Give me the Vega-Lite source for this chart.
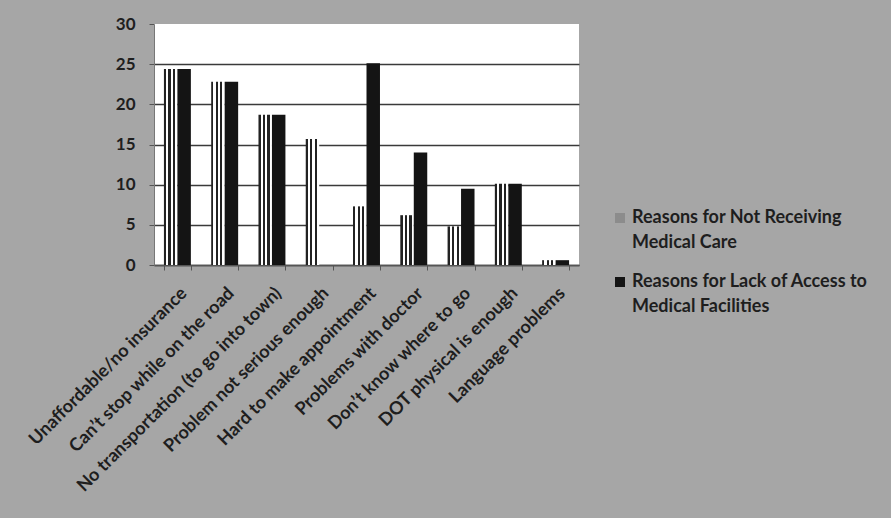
{
  "$schema": "https://vega.github.io/schema/vega-lite/v6.json",
  "autosize": "none",
  "padding": {"left": 154, "top": 24, "right": 312, "bottom": 253},
  "width": 425,
  "height": 241,
  "background": "#a6a6a6",
  "config": {
    "view": {"fill": "white", "stroke": null},
    "font": "Lato",
    "axis": {"labelFont": "Lato", "labelColor": "#1e1e1e", "labelFontWeight": "bold"},
    "legend": {"labelFont": "Lato", "labelColor": "#1e1e1e", "labelFontWeight": "bold"}
  },
  "data": {
    "values": [
      {"reason": "Unaffordable/no insurance", "series": "Reasons for Not Receiving Medical Care", "value": 24.4},
      {"reason": "Unaffordable/no insurance", "series": "Reasons for Lack of Access to Medical Facilities", "value": 24.4},
      {"reason": "Can’t stop while on the road", "series": "Reasons for Not Receiving Medical Care", "value": 22.8},
      {"reason": "Can’t stop while on the road", "series": "Reasons for Lack of Access to Medical Facilities", "value": 22.8},
      {"reason": "No transportation (to go into town)", "series": "Reasons for Not Receiving Medical Care", "value": 18.7},
      {"reason": "No transportation (to go into town)", "series": "Reasons for Lack of Access to Medical Facilities", "value": 18.7},
      {"reason": "Problem not serious enough", "series": "Reasons for Not Receiving Medical Care", "value": 15.7},
      {"reason": "Hard to make appointment", "series": "Reasons for Not Receiving Medical Care", "value": 7.3},
      {"reason": "Hard to make appointment", "series": "Reasons for Lack of Access to Medical Facilities", "value": 25.1},
      {"reason": "Problems with doctor", "series": "Reasons for Not Receiving Medical Care", "value": 6.2},
      {"reason": "Problems with doctor", "series": "Reasons for Lack of Access to Medical Facilities", "value": 14.0},
      {"reason": "Don’t know where to go", "series": "Reasons for Not Receiving Medical Care", "value": 4.8},
      {"reason": "Don’t know where to go", "series": "Reasons for Lack of Access to Medical Facilities", "value": 9.5},
      {"reason": "DOT physical is enough", "series": "Reasons for Not Receiving Medical Care", "value": 10.1},
      {"reason": "DOT physical is enough", "series": "Reasons for Lack of Access to Medical Facilities", "value": 10.1},
      {"reason": "Language problems", "series": "Reasons for Not Receiving Medical Care", "value": 0.6},
      {"reason": "Language problems", "series": "Reasons for Lack of Access to Medical Facilities", "value": 0.6}
    ]
  },
  "mark": {"type": "bar"},
  "encoding": {
    "x": {
      "field": "reason",
      "type": "nominal",
      "sort": null,
      "scale": {"paddingInner": 0.43, "paddingOuter": 0.21},
      "axis": {
        "title": null,
        "labelAngle": -45,
        "labelFontSize": 18,
        "labelPadding": 14,
        "tickBand": "extent",
        "tickSize": 5,
        "tickColor": "#555555",
        "domainColor": "#555555",
        "domainWidth": 1.5,
        "labelLimit": 400
      }
    },
    "xOffset": {"field": "series", "type": "nominal", "sort": null},
    "y": {
      "field": "value",
      "type": "quantitative",
      "scale": {"domain": [0, 30], "nice": false},
      "axis": {
        "title": null,
        "values": [0, 5, 10, 15, 20, 25, 30],
        "labelFontSize": 17,
        "labelPadding": 14,
        "tickSize": 5,
        "tickColor": "#555555",
        "domainColor": "#777777",
        "grid": true,
        "gridColor": {"condition": {"test": "datum.value === 30", "value": "transparent"}, "value": "#3a3a3a"},
        "gridWidth": 1.5
      }
    },
    "fill": {
      "condition": {
        "test": "datum.series === 'Reasons for Not Receiving Medical Care'",
        "value": {"gradient": "linear", "x1": 0, "y1": 0, "x2": 1, "y2": 0,
          "stops": [
            {"offset": 0, "color": "#222222"}, {"offset": 0.1667, "color": "#222222"},
            {"offset": 0.1667, "color": "#ffffff"}, {"offset": 0.3333, "color": "#ffffff"},
            {"offset": 0.3333, "color": "#222222"}, {"offset": 0.5, "color": "#222222"},
            {"offset": 0.5, "color": "#ffffff"}, {"offset": 0.6667, "color": "#ffffff"},
            {"offset": 0.6667, "color": "#222222"}, {"offset": 0.8333, "color": "#222222"},
            {"offset": 0.8333, "color": "#ffffff"}, {"offset": 1, "color": "#ffffff"}
          ]}
      },
      "field": "series",
      "type": "nominal",
      "sort": null,
      "scale": {"range": ["#8c8c8c", "#141414"]},
      "legend": {
        "title": null,
        "orient": "none",
        "legendX": 457,
        "legendY": 185,
        "symbolType": "square",
        "symbolSize": 100,
        "symbolStrokeWidth": 0,
        "labelFontSize": 18,
        "labelLimit": 400,
        "labelOffset": 3,
        "rowPadding": 21,
        "labelExpr": "datum.label === 'Reasons for Not Receiving Medical Care' ? ['Reasons for Not Receiving', 'Medical Care'] : ['Reasons for Lack of Access to', 'Medical Facilities']",
        "encode": {
          "labels": {"update": {"lineHeight": {"value": 25}}},
          "symbols": {"update": {"fill": {"signal": "datum.value === 'Reasons for Not Receiving Medical Care' ? {gradient: 'linear', x1: 1, y1: 0, x2: 0, y2: 1, stops: [{offset: 0, color: '#ffffff'}, {offset: 0.2, color: '#ffffff'}, {offset: 0.2, color: '#222222'}, {offset: 0.4, color: '#222222'}, {offset: 0.4, color: '#ffffff'}, {offset: 0.6, color: '#ffffff'}, {offset: 0.6, color: '#222222'}, {offset: 0.8, color: '#222222'}, {offset: 0.8, color: '#ffffff'}, {offset: 1, color: '#ffffff'}]} : '#141414'"}}}
        }
      }
    }
  }
}
